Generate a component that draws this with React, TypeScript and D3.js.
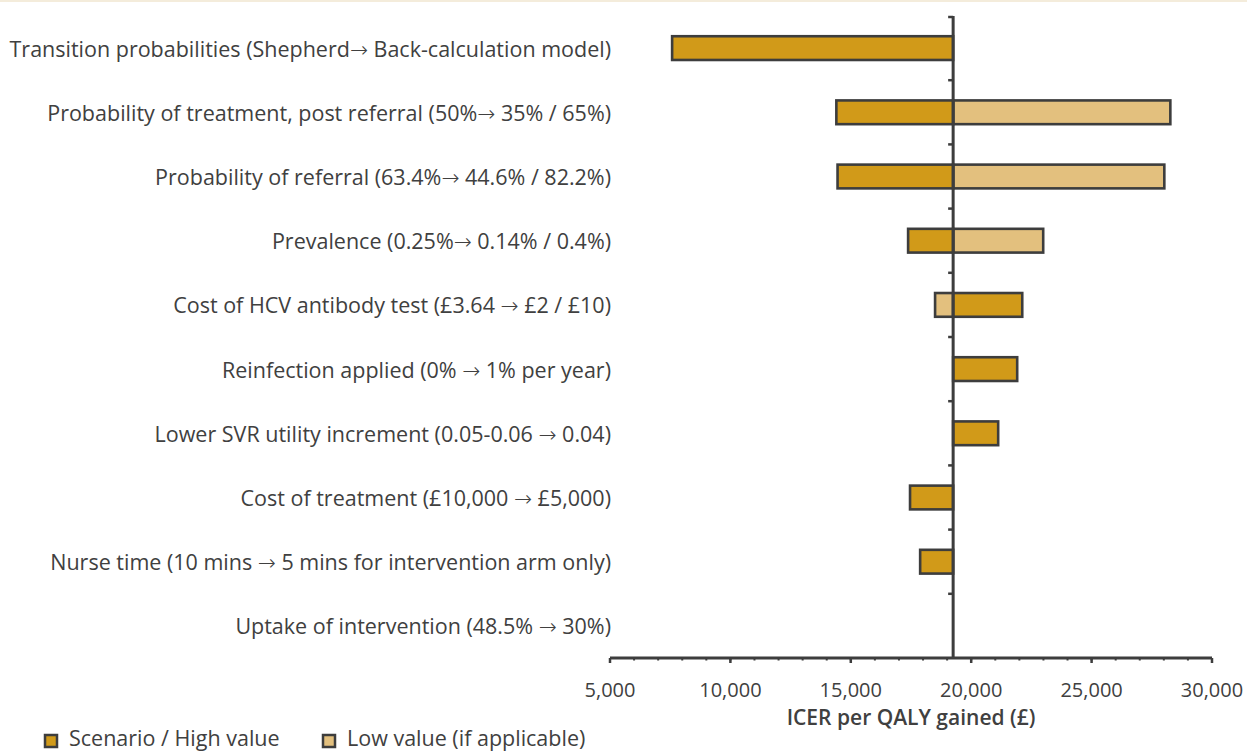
import React from "react";
import * as d3 from "d3";

const categories = [
  "Transition probabilities (Shepherd\u2192 Back-calculation model)",
  "Probability of treatment, post referral (50%\u2192 35% / 65%)",
  "Probability of referral (63.4%\u2192 44.6% / 82.2%)",
  "Prevalence (0.25%\u2192 0.14% / 0.4%)",
  "Cost of HCV antibody test (\u00a33.64 \u2192 \u00a32 / \u00a310)",
  "Reinfection applied (0% \u2192 1% per year)",
  "Lower SVR utility increment (0.05-0.06 \u2192 0.04)",
  "Cost of treatment (\u00a310,000 \u2192 \u00a35,000)",
  "Nurse time (10 mins \u2192 5 mins for intervention arm only)",
  "Uptake of intervention (48.5% \u2192 30%)",
];
const baseline = 19250;
const highValues: (number | null)[] = [7580, 14400, 14450, 17380, 22120, 21910, 21120, 17460, 17880, null];
const lowValues: (number | null)[] = [null, 28270, 28020, 22990, 18500, null, null, null, null, null];
const xTicks = [5000, 10000, 15000, 20000, 25000, 30000];
const legendLabels = ["Scenario / High value", "Low value (if applicable)"];
const axisTitle = "ICER per QALY gained (\u00a3)";

const DARK = "#D19A19";
const LIGHT = "#E3C07E";
const STROKE = "#3d3d3d";
const TEXT = "#404040";
const FONT = "'Open Sans', 'Noto Sans', sans-serif";
const ARROW_FONT = "'DejaVu Sans', sans-serif";

function withArrows(s: string) {
  const parts = s.split("\u2192");
  const out: React.ReactNode[] = [];
  parts.forEach((p, i) => {
    if (i > 0)
      out.push(
        <tspan key={"a" + i} fontFamily={ARROW_FONT} fontWeight={200}>
          {"\u2192"}
        </tspan>
      );
    out.push(<tspan key={"p" + i}>{p}</tspan>);
  });
  return out;
}

export default function App() {
  const W = 1247, H = 751;
  const x = d3.scaleLinear().domain([5000, 30000]).range([610, 1212]);
  const y = d3.scaleBand<string>().domain(categories).range([16, 658]).padding(0);
  const barH = y.bandwidth() * 0.37;
  const minorTicks = d3.range(5000, 30001, 1000);
  const axisY = 658;
  const bx = x(baseline);

  const bars: { key: string; v: number; fill: string; cat: string }[] = [];
  categories.forEach((c, i) => {
    const h = highValues[i];
    const l = lowValues[i];
    if (l != null) bars.push({ key: "l" + i, v: l, fill: LIGHT, cat: c });
    if (h != null) bars.push({ key: "h" + i, v: h, fill: DARK, cat: c });
  });

  return (
    <div style={{ position: "absolute", left: 0, top: 0 }}>
      <svg width={W} height={H} style={{ display: "block", fontFamily: FONT }}>
        <rect x={0} y={0} width={W} height={H} fill="#fff" />
        <line x1={0} x2={W} y1={1} y2={1} stroke="#f4ecdb" strokeWidth={2} />
        {bars.map((b) => {
          const x0 = Math.min(bx, x(b.v));
          const x1 = Math.max(bx, x(b.v));
          const yc = (y(b.cat) as number) + y.bandwidth() / 2;
          return (
            <rect
              key={b.key}
              x={x0}
              y={yc - barH / 2}
              width={x1 - x0}
              height={barH}
              fill={b.fill}
              stroke={STROKE}
              strokeWidth={2.6}
            />
          );
        })}
        {categories.map((c) => (
          <text
            key={c}
            x={611}
            y={(y(c) as number) + y.bandwidth() / 2 + 1}
            dy="0.35em"
            textAnchor="end"
            fontSize={21.5}
            fill={TEXT}
          >
            {withArrows(c)}
          </text>
        ))}
        <line x1={bx} x2={bx} y1={16} y2={axisY} stroke={STROKE} strokeWidth={3} />
        {categories.map((c, i) => {
          const ty = (y(c) as number) + (i === 0 ? 1 : 0);
          return <line key={"t" + c} x1={bx - 5} x2={bx} y1={ty} y2={ty} stroke={STROKE} strokeWidth={2.5} />;
        })}
        <line x1={x(5000)} x2={x(30000)} y1={axisY} y2={axisY} stroke={STROKE} strokeWidth={3} />
        {minorTicks.map((t) => (
          <line key={"m" + t} x1={x(t)} x2={x(t)} y1={axisY} y2={axisY + 2.5} stroke={STROKE} strokeWidth={2} />
        ))}
        {xTicks.map((t) => (
          <g key={"x" + t}>
            <line x1={x(t)} x2={x(t)} y1={axisY} y2={axisY + 5} stroke={STROKE} strokeWidth={2.5} />
            <text x={x(t)} y={697} textAnchor="middle" fontSize={20} fill={TEXT}>
              {d3.format(",")(t)}
            </text>
          </g>
        ))}
        <text x={(x(5000) + x(30000)) / 2} y={725} textAnchor="middle" fontSize={21} fontWeight={600} fill={TEXT}>
          {axisTitle}
        </text>
        {legendLabels.map((l, i) => {
          const lx = i === 0 ? 44 : 322;
          return (
            <g key={l}>
              <rect x={lx + 1} y={735} width={12} height={12} fill={i === 0 ? DARK : LIGHT} stroke={STROKE} strokeWidth={2.5} />
              <text x={lx + 25} y={746} fontSize={21.5} fill={TEXT}>
                {l}
              </text>
            </g>
          );
        })}
      </svg>
    </div>
  );
}
